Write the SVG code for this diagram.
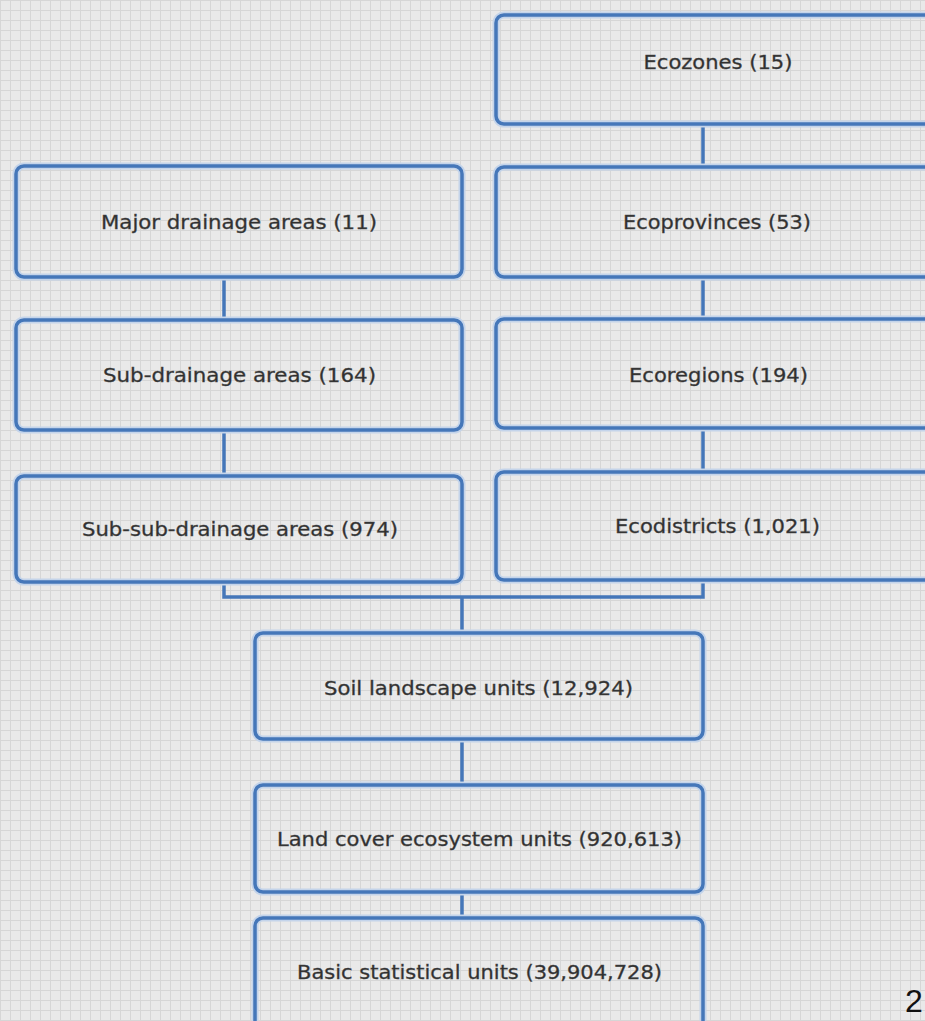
<svg xmlns="http://www.w3.org/2000/svg" width="925" height="1021" viewBox="0 0 925 1021">
<defs>
<pattern id="grid" width="10" height="10" patternUnits="userSpaceOnUse">
<rect width="10" height="10" fill="#e9e9e9"/>
<path d="M0 0.5H10M0.5 0V10" stroke="#d6d6d6" stroke-width="1" fill="none"/>
</pattern>
</defs>
<style>
.halo{fill:none;stroke:#c4d4ea;stroke-width:7}
.box{fill:none;stroke:#4577b9;stroke-width:3.5}
.lbl{font-family:"DejaVu Sans","Verdana",sans-serif;font-size:19px;fill:#2f2f2f;stroke:#4a4a4a;stroke-width:0.35;text-anchor:middle}
.conn{fill:none;stroke:#4577b9;stroke-width:3.5}
</style>
<rect width="925" height="1021" fill="url(#grid)"/>

<g id="connectors">
<path class="conn" d="M703 124V167M703 277V319M703 428V472M224 277V320M224 430V476M224 582V597H703V580M462 597V633M462 739V785M462 892V918"/>
</g>

<g id="ecozones">
<rect class="halo" x="496" y="15" width="444" height="109" rx="8"/>
<rect class="box" x="496" y="15" width="444" height="109" rx="8"/>
<text class="lbl" x="718" y="69" textLength="149" lengthAdjust="spacingAndGlyphs">Ecozones (15)</text>
</g>
<g id="major-drainage">
<rect class="halo" x="16" y="166" width="446" height="111" rx="8"/>
<rect class="box" x="16" y="166" width="446" height="111" rx="8"/>
<text class="lbl" x="239" y="229" textLength="276" lengthAdjust="spacingAndGlyphs">Major drainage areas (11)</text>
</g>
<g id="ecoprovinces">
<rect class="halo" x="496" y="167" width="444" height="110" rx="8"/>
<rect class="box" x="496" y="167" width="444" height="110" rx="8"/>
<text class="lbl" x="717" y="229" textLength="188" lengthAdjust="spacingAndGlyphs">Ecoprovinces (53)</text>
</g>
<g id="sub-drainage">
<rect class="halo" x="16" y="320" width="446" height="110" rx="8"/>
<rect class="box" x="16" y="320" width="446" height="110" rx="8"/>
<text class="lbl" x="239.5" y="382" textLength="273" lengthAdjust="spacingAndGlyphs">Sub-drainage areas (164)</text>
</g>
<g id="ecoregions">
<rect class="halo" x="496" y="319" width="444" height="109" rx="8"/>
<rect class="box" x="496" y="319" width="444" height="109" rx="8"/>
<text class="lbl" x="718.5" y="382" textLength="179" lengthAdjust="spacingAndGlyphs">Ecoregions (194)</text>
</g>
<g id="sub-sub-drainage">
<rect class="halo" x="16" y="476" width="446" height="106" rx="8"/>
<rect class="box" x="16" y="476" width="446" height="106" rx="8"/>
<text class="lbl" x="240" y="536" textLength="316" lengthAdjust="spacingAndGlyphs">Sub-sub-drainage areas (974)</text>
</g>
<g id="ecodistricts">
<rect class="halo" x="496" y="472" width="444" height="108" rx="8"/>
<rect class="box" x="496" y="472" width="444" height="108" rx="8"/>
<text class="lbl" x="717.5" y="533" textLength="205" lengthAdjust="spacingAndGlyphs">Ecodistricts (1,021)</text>
</g>
<g id="soil-landscape">
<rect class="halo" x="255" y="633" width="448" height="106" rx="8"/>
<rect class="box" x="255" y="633" width="448" height="106" rx="8"/>
<text class="lbl" x="478.5" y="695" textLength="309" lengthAdjust="spacingAndGlyphs">Soil landscape units (12,924)</text>
</g>
<g id="land-cover">
<rect class="halo" x="255" y="785" width="448" height="107" rx="8"/>
<rect class="box" x="255" y="785" width="448" height="107" rx="8"/>
<text class="lbl" x="479.5" y="846" textLength="405" lengthAdjust="spacingAndGlyphs">Land cover ecosystem units (920,613)</text>
</g>
<g id="basic-statistical">
<rect class="halo" x="255" y="918" width="448" height="115" rx="8"/>
<rect class="box" x="255" y="918" width="448" height="115" rx="8"/>
<text class="lbl" x="479.5" y="979" textLength="365" lengthAdjust="spacingAndGlyphs">Basic statistical units (39,904,728)</text>
</g>
<text x="905" y="1012" font-family="Liberation Sans, Arial, sans-serif" font-size="32" fill="#111">2</text>
</svg>
